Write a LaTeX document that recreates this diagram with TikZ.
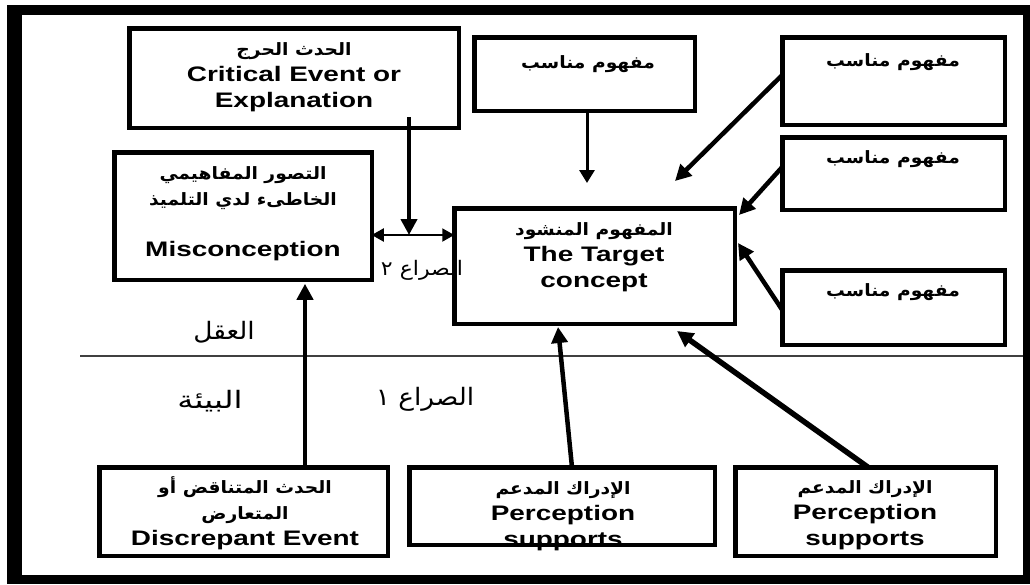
\documentclass[tikz,border=0pt]{standalone}
\usepackage{fontspec}
\setmainfont{Liberation Sans}[FakeStretch=1.33]
\newfontfamily\arfont[Script=Arabic,FakeStretch=1.1]{DejaVu Sans}
\TeXXeTstate=1
\usetikzlibrary{arrows.meta,calc}
\newcommand\arb[1]{{\arfont\bfseries\fontsize{17}{26}\selectfont\beginR #1\endR}}
\newcommand\arr[1]{{\arfont\fontsize{24}{28}\selectfont\beginR #1\endR}}
\newcommand\arrs[1]{{\arfont\fontsize{20}{24}\selectfont\beginR #1\endR}}
\tikzset{
  box/.style={draw, line width=4.5pt, inner sep=0pt, outer sep=0pt},
  txt/.style={align=center, inner sep=0pt, font=\bfseries\fontsize{21}{26}\selectfont},
  lbl/.style={inner sep=0pt},
  rule/.style={line width=1.3pt, black!75},
  bigarr/.style={line width=4.5pt, -{Triangle[length=16pt,width=16pt]}},
  midarr/.style={line width=3pt, -{Triangle[length=13pt,width=15pt]}},
  dblarr/.style={line width=2pt, {Triangle[length=12pt,width=13pt]}-{Triangle[length=12pt,width=13pt]}}
}
\begin{document}
\begin{tikzpicture}[x=1pt,y=-1pt]
\useasboundingbox (0,0) rectangle (1030,584);
\fill[black] (7,5) rectangle (1030,584);
\fill[white] (22,15) rectangle (1023,575);
% divider
\coordinate (hl) at (80,356);
\coordinate (hr) at (1023,356);
\draw[rule] (hl) -- (hr);
% boxes
\node[box, minimum width=329.5pt, minimum height=99.5pt] (crit) at (294,78) {};
\node[box, minimum width=257.5pt, minimum height=127.5pt] (mis) at (243,216) {};
\node[box, minimum width=220.5pt, minimum height=73.5pt] (top) at (584.5,74) {};
\node[box, minimum width=222.5pt, minimum height=87.5pt] (r1) at (893.5,81) {};
\node[box, minimum width=222.5pt, minimum height=72.5pt] (r2) at (893.5,173.5) {};
\node[box, minimum width=222.5pt, minimum height=74.5pt] (r3) at (893.5,307.5) {};
\node[box, minimum width=280.5pt, minimum height=115.5pt] (target) at (594.5,266) {};
\node[box, minimum width=288.5pt, minimum height=88.5pt] (disc) at (243.5,511.5) {};
\node[box, minimum width=305.5pt, minimum height=77.5pt] (p1) at (562,506) {};
\node[box, minimum width=260.5pt, minimum height=88.5pt] (p2) at (865.5,511.5) {};
% texts
\node[txt] (crit-t) at (294,77) {\arb{الحدث الحرج}\\Critical Event or\\Explanation};
\node[txt] (mis-t) at (243,214) {\arb{التصور المفاهيمي}\\\arb{الخاطىء لدي التلميذ}\\[25pt]Misconception};
\node[txt] (top-t) at (588,64) {\arb{مفهوم مناسب}};
\node[txt] (r1-t) at (893,62) {\arb{مفهوم مناسب}};
\node[txt] (r2-t) at (893,159) {\arb{مفهوم مناسب}};
\node[txt] (r3-t) at (893,292) {\arb{مفهوم مناسب}};
\node[txt] (target-t) at (594,257) {\arb{المفهوم المنشود}\\The Target\\concept};
\node[txt] (disc-t) at (245,513) {\arb{الحدث المتناقض أو}\\\arb{المتعارض}\\Discrepant Event};
\node[txt] (p1-t) at (563,516) {\arb{الإدراك المدعم}\\Perception\\supports};
\node[txt] (p2-t) at (865,515) {\arb{الإدراك المدعم}\\Perception\\supports};
% labels
\node[lbl] (l-aql) at (224,332) {\arr{العقل}};
\node[lbl] (l-bia) at (210,401) {\scalebox{1.22}[1]{\arr{البيئة}}};
\node[lbl] (l-s1) at (425,399) {\arr{الصراع ١}};
\node[lbl] (l-s2) at (422,270) {\arrs{الصراع ٢}};
% connectors
\coordinate (cs) at (409,117);
\coordinate (j) at (409,235);
\draw[bigarr, line width=4pt] (cs) -- (j);
\draw[dblarr] (mis.east |- j) -- (target.west |- j);
\coordinate (tt) at (587,183);
\draw[midarr] ([xshift=2.5pt]top.south) -- (tt);
\coordinate (r1e) at (675,181);
\draw[bigarr] ([yshift=6pt]r1.west) -- (r1e);
\coordinate (r2e) at (739,215);
\draw[bigarr] ([yshift=6.5pt]r2.west) -- (r2e);
\coordinate (r3e) at (738,243);
\draw[bigarr] ([yshift=-2.5pt]r3.west) -- (r3e);
\coordinate (p1e) at (558,327);
\draw[bigarr] ([xshift=10pt]p1.north) -- (p1e);
\coordinate (p2e) at (677,331);
\draw[bigarr, line width=5.5pt] ([xshift=2.5pt]p2.north) -- (p2e);
\draw[bigarr] ([xshift=61.5pt]disc.north) -- ([xshift=62pt,yshift=-4pt]mis.south);
\end{tikzpicture}
\end{document}
